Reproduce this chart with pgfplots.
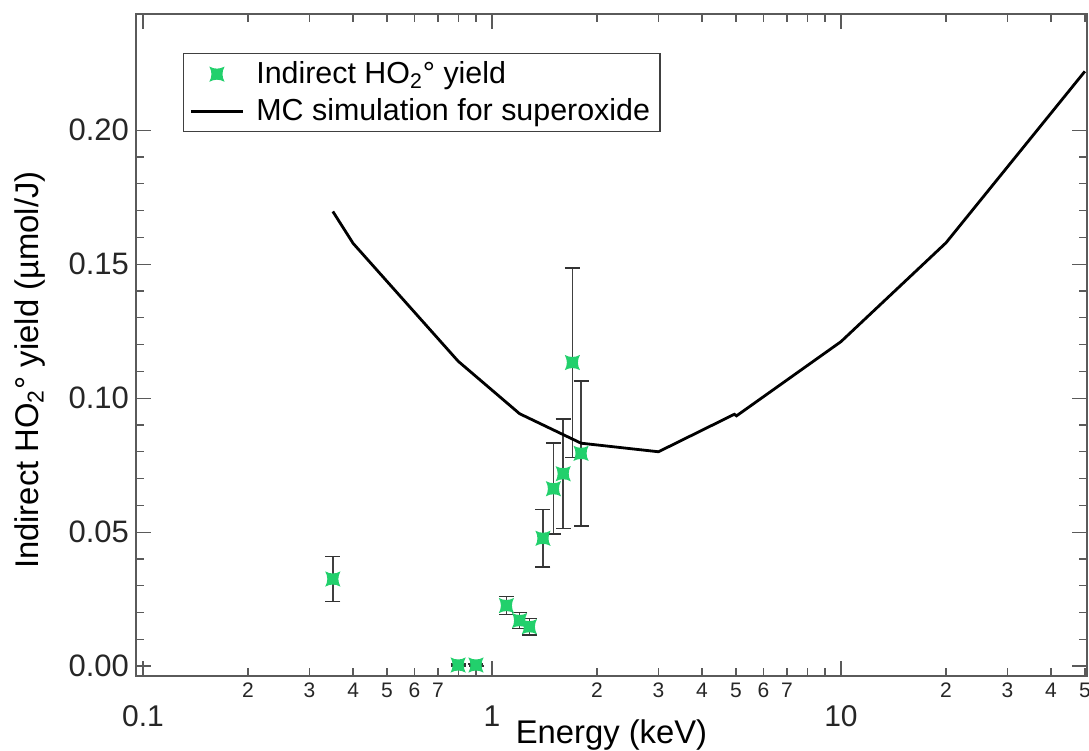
\documentclass[border=0pt]{standalone}
\usepackage{fontspec}
\setmainfont{Liberation Sans}
\usepackage{pgfplots}
\pgfplotsset{compat=1.18}
\definecolor{mkgreen}{RGB}{34,208,108}
\definecolor{axgray}{RGB}{90,90,90}
\pgfdeclareplotmark{cstar}{%
  \pgfpathmoveto{\pgfqpoint{\pgfplotmarksize}{\pgfplotmarksize}}%
  \pgfpathquadraticcurveto{\pgfqpoint{0pt}{0.45\pgfplotmarksize}}{\pgfqpoint{-\pgfplotmarksize}{\pgfplotmarksize}}%
  \pgfpathquadraticcurveto{\pgfqpoint{-0.45\pgfplotmarksize}{0pt}}{\pgfqpoint{-\pgfplotmarksize}{-\pgfplotmarksize}}%
  \pgfpathquadraticcurveto{\pgfqpoint{0pt}{-0.45\pgfplotmarksize}}{\pgfqpoint{\pgfplotmarksize}{-\pgfplotmarksize}}%
  \pgfpathquadraticcurveto{\pgfqpoint{0.45\pgfplotmarksize}{0pt}}{\pgfqpoint{\pgfplotmarksize}{\pgfplotmarksize}}%
  \pgfpathclose
  \pgfusepathqfill
}
\begin{document}
\begin{tikzpicture}
\begin{axis}[
  scale only axis,
  width=475.5pt, height=331pt,
  xmode=log,
  xmin=0.0955, xmax=50.7,
  ymin=-0.0037, ymax=0.2434,
  axis line style={axgray, line width=0.75pt},
  every tick/.style={axgray, line width=0.6pt},
  tick align=inside,
  major tick length=7.5pt,
  minor tick length=4pt,
  xtick={0.1,1,10},
  xticklabels={{\rule{0pt}{21.5pt}0.1},{\rule{0pt}{21.5pt}1},{\rule{0pt}{21.5pt}10}},
  xticklabel style={font=\fontsize{15}{17}\selectfont, text=black!85},
  extra x ticks={0.2,0.3,0.4,0.5,0.6,0.7,2,3,4,5,6,7,20,30,40,50},
  extra x tick labels={2,3,4,5,6,7,2,3,4,5,6,7,2,3,4,5},
  extra x tick style={major tick length=4pt, xticklabel style={font=\fontsize{10.5}{12}\selectfont}},
  ytick={0,0.05,0.10,0.15,0.20},
  minor y tick num=4,
  yticklabel style={font=\fontsize{15.5}{17}\selectfont, text=black!85, /pgf/number format/.cd, fixed, fixed zerofill, precision=2, assume math mode=true},
  xlabel={Energy (keV)},
  xlabel style={font=\fontsize{16.4}{18}\selectfont, at={(axis description cs:0.5,0)}, anchor=base, yshift=-33.5pt},
  ylabel={Indirect HO\textsubscript{2}° yield (µmol/J)},
  ylabel style={font=\fontsize{16.4}{18}\selectfont, at={(axis description cs:-0.1115,0.462)}, anchor=center},
  legend style={at={(axis description cs:0.0494,0.941)}, anchor=north west, draw=black!75, line width=0.6pt,
    font=\fontsize{15.2}{17}\selectfont, inner xsep=3pt, inner ysep=2pt, row sep=2pt, cells={anchor=west},
    /tikz/every odd column/.append style={column sep=4pt}},
  legend cell align=left,
  legend image code/.code={\draw[mark repeat=2, mark phase=2, #1] plot coordinates {(0pt,0pt) (13pt,0pt) (26pt,0pt)};},
]
\addplot[only marks, mark=cstar, mark size=3.8pt, mkgreen,
  error bars/.cd, y dir=both, y explicit,
  error bar style={black!75, line width=0.8pt},
  error mark options={rotate=90, mark size=3.75pt, black!80, line width=0.8pt}]
  table[x=x, y=y, y error=e] {
  x     y      e
  0.35  0.0325 0.0084
  0.80  0.0004 0.0003
  0.90  0.0004 0.0003
  1.10  0.0226 0.0033
  1.20  0.0170 0.0030
  1.28  0.0147 0.0030
  1.40  0.0477 0.0108
  1.50  0.0662 0.0170
  1.60  0.0718 0.0204
  1.70  0.1133 0.0354
  1.80  0.0794 0.0271
};
\addlegendentry{Indirect HO\textsubscript{2}° yield}
\addplot[black, line width=1.4pt, mark=none] coordinates {
  (0.35,0.1697) (0.40,0.1578) (0.80,0.1138) (1.20,0.0942) (1.80,0.0832)
  (3.00,0.0800) (4.95,0.0940) (5.02,0.0934) (10,0.1211) (20,0.1580) (50,0.2220)
};
\addlegendentry{MC simulation for superoxide}
\end{axis}
\pgfresetboundingbox
\path (-68pt,-37.5pt) rectangle (476.5pt,338pt);
\end{tikzpicture}
\end{document}
